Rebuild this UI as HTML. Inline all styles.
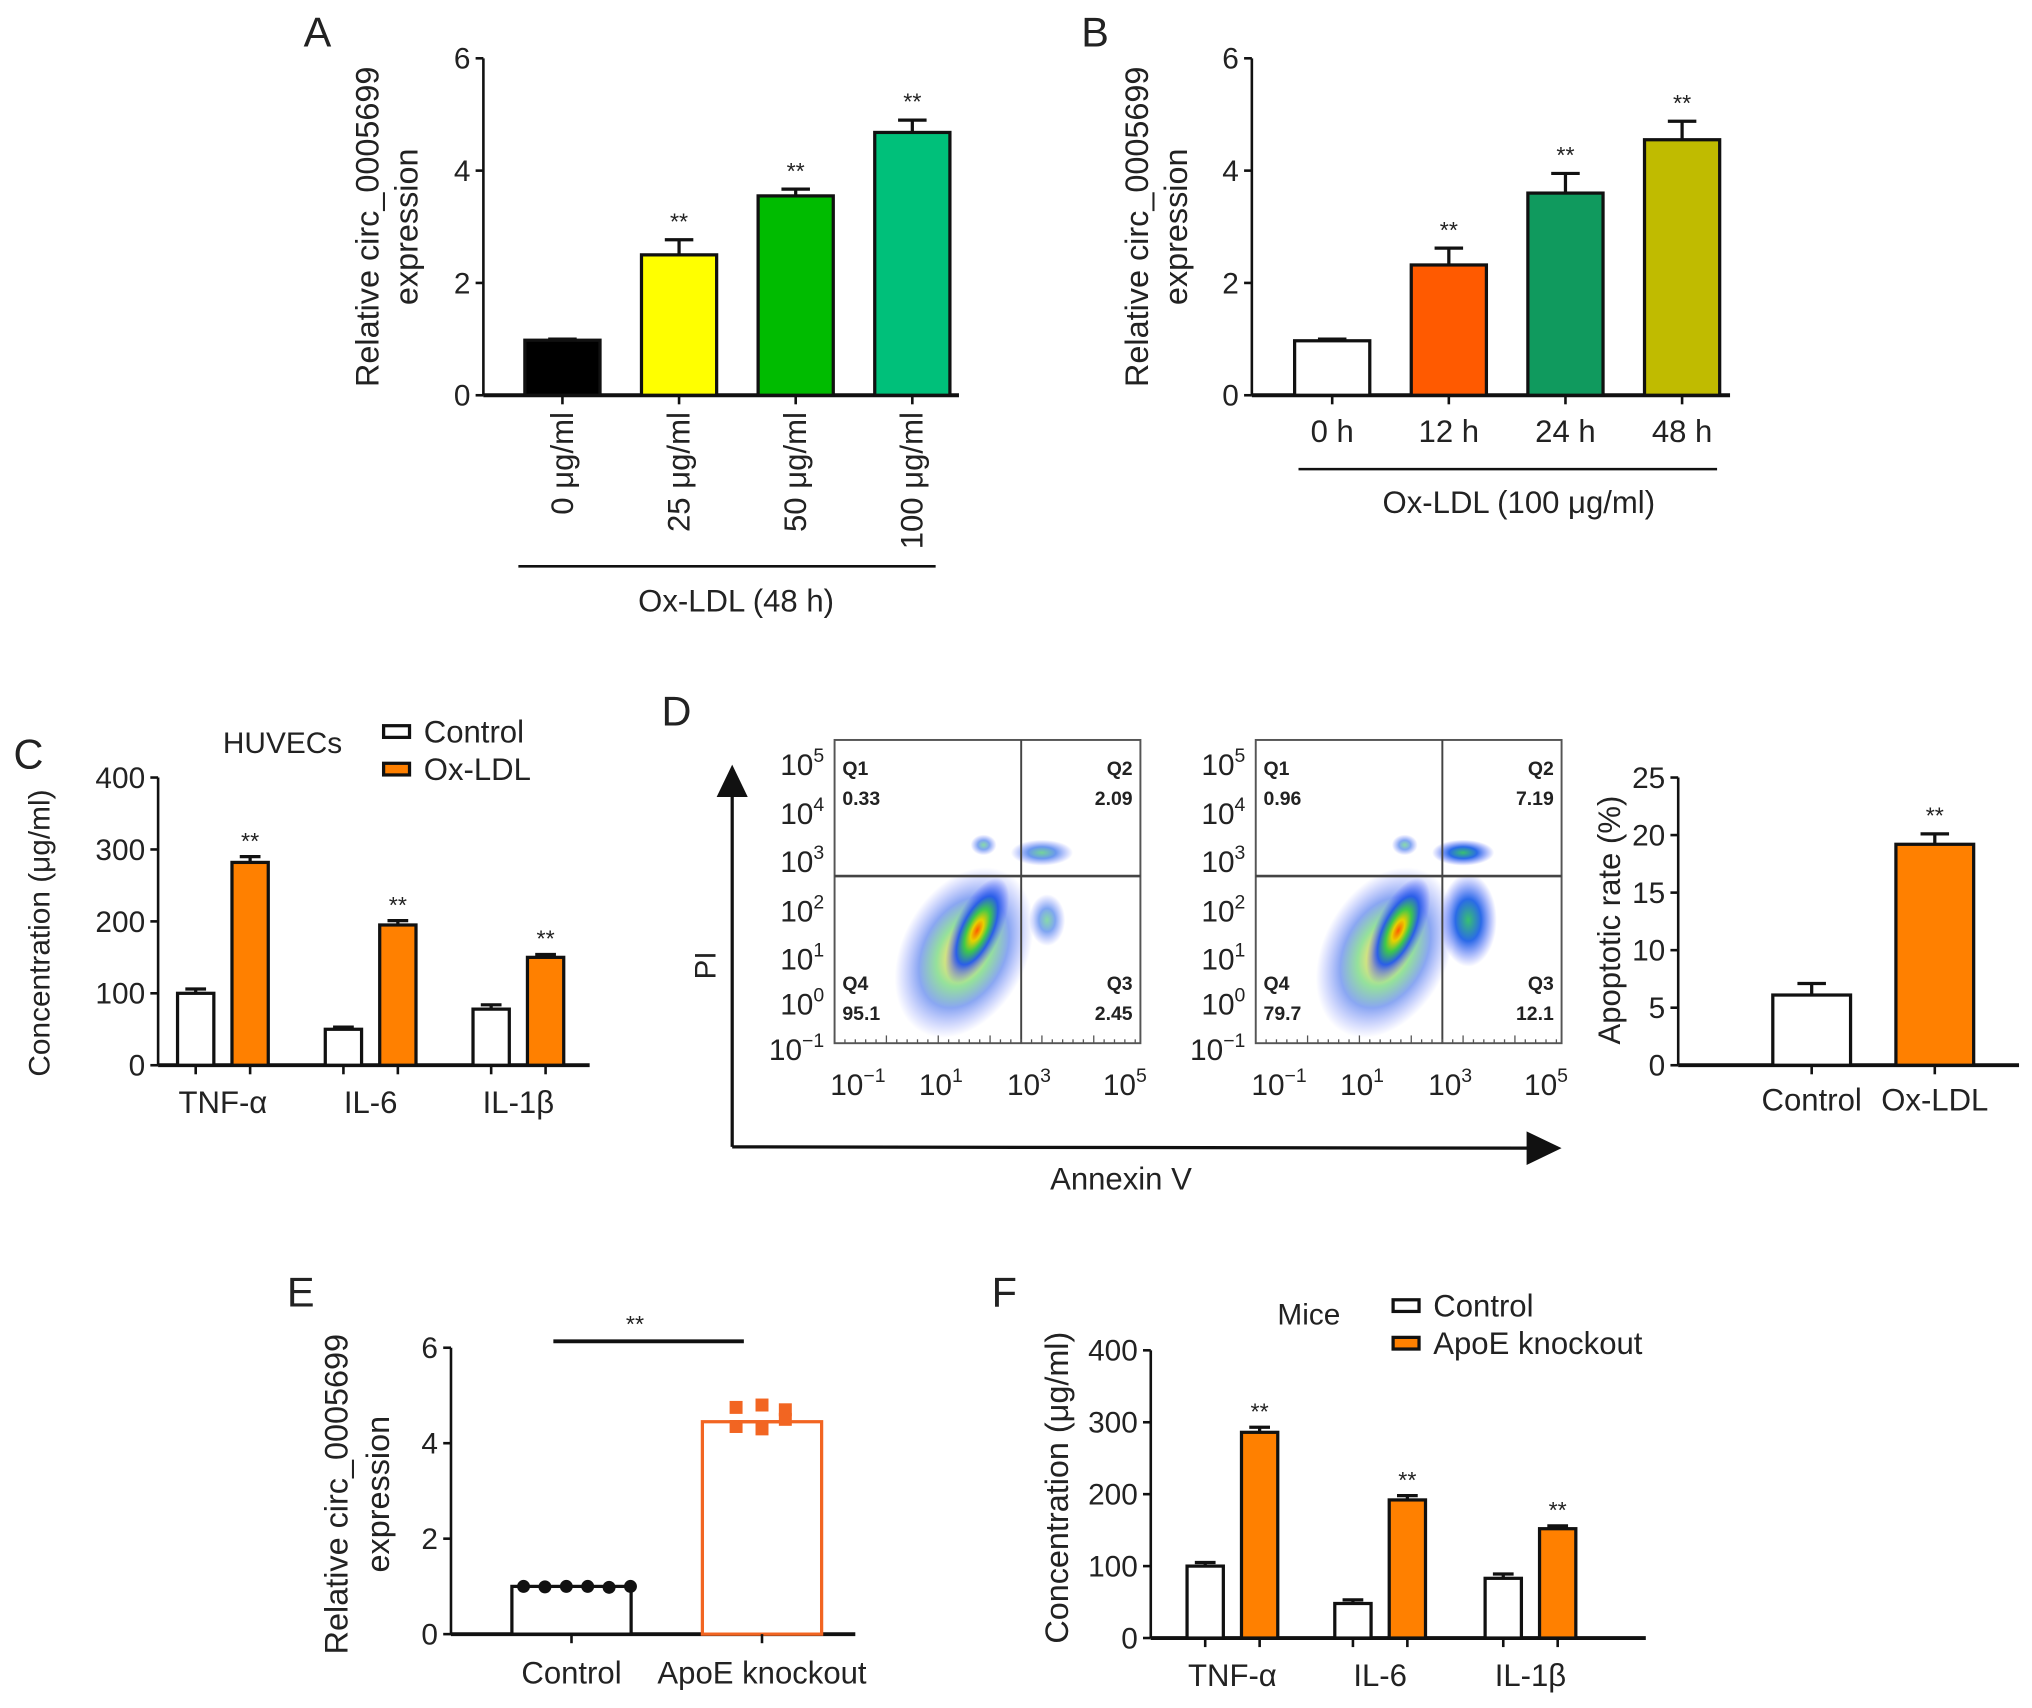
<!DOCTYPE html>
<html><head><meta charset="utf-8">
<style>
html,body{margin:0;padding:0;background:#fff;}
svg{display:block;}
text{font-family:"Liberation Sans Narrow","Liberation Sans",sans-serif;fill:#222;}
.lt{font-family:"Liberation Sans",sans-serif;}
</style></head>
<body>
<svg id="fig" xmlns="http://www.w3.org/2000/svg" width="2032" height="1708" viewBox="0 0 1568 1318">
<defs>
<radialGradient id="dens" cx="50%" cy="50%" r="50%">
<stop offset="0%" stop-color="#ff5a00"/>
<stop offset="20%" stop-color="#e8d000"/>
<stop offset="40%" stop-color="#3ec84a"/>
<stop offset="65%" stop-color="#2a5ee8"/>
<stop offset="100%" stop-color="#5060ff" stop-opacity="0"/>
</radialGradient>
<radialGradient id="dens2" cx="50%" cy="50%" r="50%">
<stop offset="0%" stop-color="#38c070"/>
<stop offset="45%" stop-color="#2a6ae8"/>
<stop offset="100%" stop-color="#5060ff" stop-opacity="0"/>
</radialGradient>
</defs>
</svg>
<script>
// ---- data ----
const aCats=['0 μg/ml','25 μg/ml','50 μg/ml','100 μg/ml'];
const aVals=[0.98,2.5,3.55,4.68];
const aErr=[0.02,0.27,0.12,0.22];
const aTicks=[0,2,4,6];
const bCats=['0 h','12 h','24 h','48 h'];
const bVals=[0.97,2.32,3.6,4.55];
const bErr=[0.03,0.3,0.35,0.33];
const cCats=['TNF-α','IL-6','IL-1β'];
const cCtrl=[100,50,78];
const cCtrlErr=[6,3,6];
const cOx=[282,195,150];
const cOxErr=[8,6,4];
const cTicks=[0,100,200,300,400];
const dCats=['Control','Ox-LDL'];
const dVals=[6.1,19.2];
const dErr=[1.0,0.9];
const dTicks=[0,5,10,15,20,25];
const fcsQuad1=['0.33','2.09','95.1','2.45'];
const fcsQuad2=['0.96','7.19','79.7','12.1'];
const eCats=['Control','ApoE knockout'];
const eVals=[1.0,4.45];
const eCtrlPts=[1.0,0.99,1.0,1.0,0.98,1.0];
const eKoPts=[4.75,4.8,4.7,4.35,4.3,4.5];
const eTicks=[0,2,4,6];
const fCtrl=[100,48,83];
const fCtrlErr=[5,5,6];
const fKo=[286,192,152];
const fKoErr=[7,6,4];

const NS='http://www.w3.org/2000/svg';
const svg=document.getElementById('fig');
function mk(tag,attrs,parent){const e=document.createElementNS(NS,tag);for(const k in attrs)e.setAttribute(k,attrs[k]);(parent||svg).appendChild(e);return e;}
function txt(s,x,y,size,anchor,extra){const t=mk('text',Object.assign({x:x,y:y,'font-size':size,'text-anchor':anchor||'middle'},extra||{}));t.textContent=s;return t;}
function lin(x1,y1,x2,y2,w,c){return mk('line',{x1:x1,y1:y1,x2:x2,y2:y2,stroke:c||'#111','stroke-width':w||2.5});}

function yAxis(x,y0,yTop,max,ticks,x2,name){
  const sc=v=>y0-(y0-yTop)*v/max;
  const ax=lin(x,yTop,x,y0,2);
  
  
  const bx=lin(x,y0,x2,y0,3);
  
  
  ticks.forEach(t=>{
    lin(x-6,sc(t),x,sc(t),2);
    const l=txt(String(t),x-10,sc(t)+8,23,'end');
    
    
  });
  return sc;
}
function bar(cx,w,v,sc,fill,stroke,name){
  const r=mk('rect',{x:cx-w/2,y:sc(v),width:w,height:sc(0)-sc(v),fill:fill,stroke:stroke||'#111','stroke-width':2.5});
  
  
  return r;
}
function err(cx,v,e,sc,cap,c){
  lin(cx,sc(v),cx,sc(v+e),2.5,c);
  lin(cx-cap/2,sc(v+e),cx+cap/2,sc(v+e),2.5,c);
}
function stars(x,y){const s=txt('**',x,y,18,'middle');}
function panelLetter(s,x,y){const t=txt(s,x,y,32,'middle',{class:'lt'});}

// ---- Panel A ----
panelLetter('A',245,36);
const scA=yAxis(373,305,45,6,aTicks,740,'panel-a');
const aColors=['#000','#ffff00','#00bb00','#00c07a'];
aCats.forEach((c,i)=>{
  const cx=434+i*90;
  bar(cx,58,aVals[i],scA,aColors[i],'#111','panel-a-bar-'+i);
  err(cx,aVals[i],aErr[i],scA,22);
  if(i>0) stars(cx,scA(aVals[i]+aErr[i])-8);
  lin(cx,305,cx,312,2);
  const t=txt(c,cx+8,318,24,'end',{transform:'rotate(-90 '+(cx+8)+' 318)'});
  
  
});
lin(400,437,722,437,2);
{const t=txt('Ox-LDL (48 h)',568,472,24);}
{const t=txt('Relative circ_0005699',292,175,25,'middle',{class:'lt',transform:'rotate(-90 292 175)'});
 const t2=txt('expression',322,175,25,'middle',{class:'lt',transform:'rotate(-90 322 175)'});}

// ---- Panel B ----
panelLetter('B',845,36);
const scB=yAxis(966,305,45,6,aTicks,1335,'panel-b');
const bColors=['#fff','#ff5a00','#109a5e','#c0bb00'];
bCats.forEach((c,i)=>{
  const cx=1028+i*90;
  bar(cx,58,bVals[i],scB,bColors[i],'#111','panel-b-bar-'+i);
  err(cx,bVals[i],bErr[i],scB,22);
  if(i>0) stars(cx,scB(bVals[i]+bErr[i])-8);
  lin(cx,305,cx,312,2);
  const t=txt(c,cx,341,24);
  
  
});
lin(1002,362,1325,362,2);
{const t=txt('Ox-LDL (100 μg/ml)',1172,396,24);}
{const t=txt('Relative circ_0005699',886,175,25,'middle',{class:'lt',transform:'rotate(-90 886 175)'});
 const t2=txt('expression',916,175,25,'middle',{class:'lt',transform:'rotate(-90 916 175)'});}

// ---- grouped bar helper (C, F) ----
function grouped(name,ax,y0,yTop,x2,ctrl,ce,tr,te,centers,trColor){
  const sc=yAxis(ax,y0,yTop,400,cTicks,x2,name);
  cCats.forEach((c,i)=>{
    const cx=centers[i];
    bar(cx-21,28,ctrl[i],sc,'#fff','#111',name+'-control-bar-'+i);
    err(cx-21,ctrl[i],ce[i],sc,16);
    bar(cx+21,28,tr[i],sc,trColor,'#111',name+'-treated-bar-'+i);
    err(cx+21,tr[i],te[i],sc,16);
    stars(cx+21,sc(tr[i]+te[i])-6);
    lin(cx-21,y0,cx-21,y0+7,2);lin(cx+21,y0,cx+21,y0+7,2);
    const t=txt(c,cx,y0+37,24);
    
    
  });
  return sc;
}
function legend(name,x,y1,y2,l1,l2,title,tx,ty){
  const s1=mk('rect',{x:x,y:y1-5,width:20,height:9,fill:'#fff',stroke:'#111','stroke-width':2.5});
  
  
  const a=txt(l1,x+31,y1+8,24,'start');
  
  
  const s2=mk('rect',{x:x,y:y2-5,width:20,height:9,fill:'#ff8000',stroke:'#111','stroke-width':2.5});
  
  
  const b=txt(l2,x+31,y2+8,24,'start');
  
  
  const t=txt(title,tx,ty,23);
  
  
}

// ---- Panel C ----
panelLetter('C',22,593);
grouped('panel-c',122,822,600,455,cCtrl,cCtrlErr,cOx,cOxErr,[172,286,400],'#ff8000');
legend('panel-c',296,565,594,'Control','Ox-LDL','HUVECs',218,581);
{const t=txt('Concentration (μg/ml)',38,720,23,'middle',{class:'lt',transform:'rotate(-90 38 720)'});}

// ---- Panel D flow plots ----
panelLetter('D',522,560);
function sup(base,exp,x,y,anchor){
  const t=mk('text',{x:x,y:y,'font-size':23,'text-anchor':anchor||'middle'});
  const a=mk('tspan',{},t);a.textContent=base;
  const b=mk('tspan',{dy:-10,'font-size':15},t);b.textContent=exp;
  return t;
}
function flow(name,x0,quad,second){
  const x1=x0+236,y0=571,y1=805,vx=x0+144,hy=676;
  const g=mk('g',{});
  
  
  mk('ellipse',{cx:x0+100,cy:735,rx:48,ry:70,fill:'url(#dens)',opacity:0.55,transform:'rotate(28 '+(x0+100)+' 735)'},g);
  mk('ellipse',{cx:x0+110,cy:718,rx:18,ry:44,fill:'url(#dens)',transform:'rotate(25 '+(x0+110)+' 718)'},g);
  mk('ellipse',{cx:x0+160,cy:658,rx:24,ry:10,fill:'url(#dens2)',opacity:second?1:0.7},g);
  mk('ellipse',{cx:x0+164,cy:710,rx:second?22:14,ry:second?36:20,fill:'url(#dens2)',opacity:second?1:0.6},g);
  mk('ellipse',{cx:x0+115,cy:652,rx:10,ry:8,fill:'url(#dens2)',opacity:0.6},g);
  mk('rect',{x:x0,y:y0,width:236,height:234,fill:'none',stroke:'#555','stroke-width':1.5},g);
  lin(vx,y0,vx,y1,1.5,'#444');
  lin(x0,hy,x1,hy,2,'#444');
  for(let k=0;k<30;k++){lin(x0+k*8,y1,x0+k*8,y1-(k%5==0?6:3),1,'#555');}
  const lbl=[['Q1',x0+6,y0+27,'start'],[quad[0],x0+6,y0+50,'start'],['Q2',x1-6,y0+27,'end'],[quad[1],x1-6,y0+50,'end'],
             ['Q4',x0+6,y0+193,'start'],[quad[2],x0+6,y0+216,'start'],['Q3',x1-6,y0+193,'end'],[quad[3],x1-6,y0+216,'end']];
  lbl.forEach(l=>{const t=txt(l[0],l[1],l[2],15,l[3],{'font-weight':'bold'});});
  const yt=[['5',590],['4',628],['3',665],['2',703],['1',740],['0',775],['−1',810]];
  yt.forEach(p=>{const t=sup('10',p[0],x0-8,p[1]+8,'end');});
  const xt=[['−1',x0+18],['1',x0+82],['3',x0+150],['5',x0+224]];
  xt.forEach(p=>{const t=sup('10',p[0],p[1],845,'middle');});
}
flow('flow-plot-control',644,fcsQuad1,false);
flow('flow-plot-oxldl',969,fcsQuad2,true);
{const v=lin(565,885,565,612,2.5);
 const p=mk('polygon',{points:'553,615 577,615 565,590',fill:'#111'});
 const h=lin(565,885,1180,886,2.5);
 const p2=mk('polygon',{points:'1178,873 1178,899 1205,886',fill:'#111'});
 const t=txt('PI',552,745,23,'middle',{class:'lt',transform:'rotate(-90 552 745)'});
 const t2=txt('Annexin V',865,918,24);}

// ---- Panel D apoptotic rate ----
{const sc=(function(){const y0=822,yTop=600,max=25;return v=>y0-(y0-yTop)*v/max;})();
 const ax=lin(1295,600,1295,822,2);
 const bx=lin(1295,822,1558,822,3);
 dTicks.forEach(t=>{lin(1289,sc(t),1295,sc(t),2);const l=txt(String(t),1285,sc(t)+8,23,'end');});
 const dColors=['#fff','#ff8000'];
 dCats.forEach((c,i)=>{
   const cx=1398+i*95;
   bar(cx,60,dVals[i],sc,dColors[i],'#111','panel-d-bar-'+i);
   err(cx,dVals[i],dErr[i],sc,22);
   if(i>0) stars(cx,sc(dVals[i]+dErr[i])-8);
   lin(cx,822,cx,829,2);
   const t=txt(c,cx,857,24);
 });
 const t=txt('Apoptotic rate (%)',1250,710,24,'middle',{class:'lt',transform:'rotate(-90 1250 710)'});
}

// ---- Panel E ----
panelLetter('E',232,1008);
{const scE=yAxis(348,1261,1040,6,eTicks,660,'panel-e');
 const eCenters=[441,588];
 const eStroke=['#111','#f26522'];
 eCats.forEach((c,i)=>{
   bar(eCenters[i],92,eVals[i],scE,'#fff',eStroke[i],'panel-e-bar-'+i);
   lin(eCenters[i],1261,eCenters[i],1268,2);
   const t=txt(c,eCenters[i],1299,24);
 });
 eCtrlPts.forEach((v,k)=>{const d=mk('circle',{cx:404+k*16.5,cy:scE(v),r:5,fill:'#111'});});
 const koX=[568,588,606,568,588,606];
 eKoPts.forEach((v,k)=>{const d=mk('rect',{x:koX[k]-5,y:scE(v)-5,width:10,height:10,fill:'#f26522'});});
 lin(570,scE(4.45),606,scE(4.45),2.5,'#f26522');
 const s=lin(427,1035,574,1035,3);
 stars(490,1028);
 const t=txt('Relative circ_0005699',268,1153,25,'middle',{class:'lt',transform:'rotate(-90 268 1153)'});
 const t2=txt('expression',300,1153,25,'middle',{class:'lt',transform:'rotate(-90 300 1153)'});
}

// ---- Panel F ----
panelLetter('F',775,1008);
grouped('panel-f',888,1264,1042,1270,fCtrl,fCtrlErr,fKo,fKoErr,[951,1065,1181],'#ff8000');
legend('panel-f',1075,1008,1037,'Control','ApoE knockout','Mice',1010,1022);
{const t=txt('Concentration (μg/ml)',824,1148,25,'middle',{class:'lt',transform:'rotate(-90 824 1148)'});}
</script>
</body></html>
